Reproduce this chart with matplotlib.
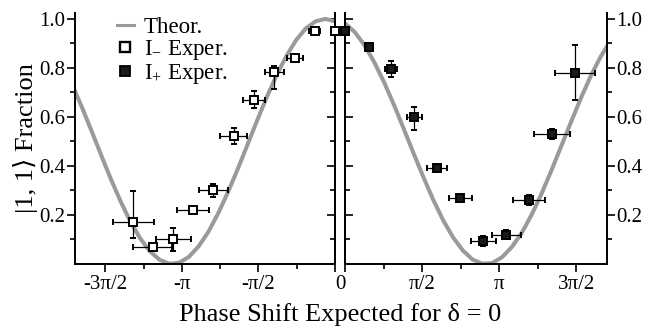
import numpy as np
import matplotlib
matplotlib.use("Agg")
import matplotlib.pyplot as plt
from matplotlib.ticker import FixedLocator, MultipleLocator
import matplotlib.transforms as mtransforms
from matplotlib.lines import Line2D

plt.rcParams['font.family'] = ['Liberation Serif', 'DejaVu Serif']
plt.rcParams['mathtext.fontset'] = 'custom'
plt.rcParams['mathtext.rm'] = 'Liberation Serif'
plt.rcParams['mathtext.it'] = 'Liberation Serif:italic'

# ---------------- data ----------------
# theory curve, left panel (phase < 0)
theo_left_x = [-5.4, -5.2, -5.0, -4.8, -4.6, -4.4, -4.2, -4.0, -3.8, -3.6, -3.4, -3.2,
               -3.0, -2.8, -2.6, -2.4, -2.2, -2.0, -1.8, -1.6, -1.4, -1.2, -1.0, -0.8,
               -0.6, -0.4, -0.2, 0.0]
theo_left_y = [0.734, 0.642, 0.544, 0.444, 0.346, 0.255, 0.173, 0.105, 0.052, 0.017,
               0.001, 0.005, 0.029, 0.072, 0.131, 0.206, 0.292, 0.386, 0.485, 0.585,
               0.681, 0.770, 0.848, 0.913, 0.961, 0.990, 1.000, 0.990]
# theory curve, right panel (phase > 0)
theo_right_x = [0.0, 0.2, 0.4, 0.6, 0.8, 1.0, 1.2, 1.4, 1.6, 1.8, 2.0, 2.2, 2.4, 2.6,
                2.8, 3.0, 3.2, 3.4, 3.6, 3.8, 4.0, 4.2, 4.4, 4.6, 4.8, 5.0, 5.2, 5.4]
theo_right_y = [0.982, 0.946, 0.892, 0.822, 0.740, 0.648, 0.550, 0.450, 0.353, 0.261,
                0.178, 0.109, 0.055, 0.018, 0.001, 0.004, 0.028, 0.070, 0.127, 0.201,
                0.286, 0.380, 0.479, 0.578, 0.675, 0.765, 0.844, 0.909]

# I- experiment (open squares)
im_x = [0.0, -0.418, -0.824, -1.242, -1.660, -2.080, -2.497, -2.909, -3.321, -3.739, -4.145]
im_y = [0.951, 0.951, 0.842, 0.782, 0.671, 0.521, 0.301, 0.220, 0.101, 0.069, 0.171]
im_xerr = [0.0, 0.12, 0.17, 0.19, 0.23, 0.28, 0.30, 0.33, 0.36, 0.40, 0.42]
im_yerr_lo = [0.0, 0.0, 0.0, 0.069, 0.036, 0.032, 0.027, 0.0, 0.048, 0.0, 0.064]
im_yerr_hi = [0.0, 0.0, 0.0, 0.027, 0.036, 0.032, 0.027, 0.0, 0.047, 0.0, 0.126]

# I+ experiment (filled squares)
ip_x = [0.0, 0.489, 0.930, 1.411, 1.879, 2.348, 2.816, 3.284, 3.746, 4.215, 4.683]
ip_y = [0.951, 0.887, 0.796, 0.600, 0.391, 0.271, 0.094, 0.120, 0.261, 0.532, 0.781]
ip_xerr = [0.0, 0.0, 0.12, 0.15, 0.20, 0.23, 0.26, 0.30, 0.33, 0.37, 0.40]
ip_yerr_lo = [0.0, 0.0, 0.032, 0.055, 0.0, 0.0, 0.02, 0.02, 0.02, 0.02, 0.112]
ip_yerr_hi = [0.0, 0.0, 0.032, 0.040, 0.0, 0.0, 0.02, 0.02, 0.02, 0.02, 0.113]

left_ticks = [-3 * np.pi / 2, -np.pi, -np.pi / 2, 0.0]
left_ticklabels = ['-3π/2', '-π', '-π/2', '0']
right_ticks = [0.0, np.pi / 2, np.pi, 3 * np.pi / 2]
right_ticklabels = ['', 'π/2', 'π', '3π/2']
y_ticks = [0.2, 0.4, 0.6, 0.8, 1.0]
y_minor = [0.1, 0.3, 0.5, 0.7, 0.9]
y_ticklabels = ['0.2', '0.4', '0.6', '0.8', '1.0']

# ---------------- figure ----------------
fig = plt.figure(figsize=(6.52, 3.28), dpi=100)
axL = fig.add_axes([0.1150, 0.1951, 0.3988, 0.7652])
axR = fig.add_axes([0.5291, 0.1951, 0.4018, 0.7652])

gray = '#9a9a9a'
FS_TICK = 15
lw_sp = 1.4

def style(ax):
    for s in ['left', 'right', 'bottom']:
        ax.spines[s].set_linewidth(lw_sp)
    ax.spines['top'].set_visible(False)
    ax.set_ylim(0, 1.024)
    ax.yaxis.set_major_locator(FixedLocator(y_ticks))
    ax.yaxis.set_minor_locator(FixedLocator(y_minor))
    ax.xaxis.set_minor_locator(MultipleLocator(np.pi / 4))
    ax.tick_params(axis='x', which='major', direction='out', length=6, width=1.2,
                   labelsize=FS_TICK, pad=2)
    ax.tick_params(axis='x', which='minor', direction='out', length=3.5, width=1.2)
    ax.tick_params(axis='x', top=False)

style(axL)
style(axR)

# left panel
axL.set_xlim(-5.338, 0.0)
axL.set_xticks(left_ticks)
axL.set_xticklabels(left_ticklabels)
axL.tick_params(axis='y', which='major', direction='out', length=6, width=1.2,
                labelsize=FS_TICK, left=True, right=False, pad=1)
axL.tick_params(axis='y', which='minor', direction='out', length=3.5, width=1.2,
                left=True, right=False)
axL.set_yticklabels(y_ticklabels)
secL = axL.secondary_yaxis('right')
secL.spines['right'].set_linewidth(lw_sp)
secL.yaxis.set_major_locator(FixedLocator(y_ticks))
secL.yaxis.set_minor_locator(FixedLocator(y_minor))
secL.tick_params(axis='y', which='major', direction='in', length=6, width=1.2, labelright=False)
secL.tick_params(axis='y', which='minor', direction='in', length=3.5, width=1.2)

# right panel
axR.set_xlim(0.0, 5.334)
axR.set_xticks(right_ticks)
axR.set_xticklabels(right_ticklabels)
axR.yaxis.tick_right()
axR.tick_params(axis='y', which='major', direction='out', length=6, width=1.2,
                labelsize=FS_TICK, left=False, right=True, labelleft=False,
                labelright=True, pad=1)
axR.tick_params(axis='y', which='minor', direction='out', length=3.5, width=1.2,
                left=False, right=True)
axR.set_yticklabels(y_ticklabels)
secR = axR.secondary_yaxis('left')
secR.spines['left'].set_linewidth(lw_sp)
secR.yaxis.set_major_locator(FixedLocator(y_ticks))
secR.yaxis.set_minor_locator(FixedLocator(y_minor))
secR.tick_params(axis='y', which='major', direction='in', length=6, width=1.2, labelleft=False)
secR.tick_params(axis='y', which='minor', direction='in', length=3.5, width=1.2)

# shift the shared "0" label to sit between the panels
offset = mtransforms.ScaledTranslation(5 / 100, 0, fig.dpi_scale_trans)
for lab in axL.get_xticklabels():
    if lab.get_text() == '0':
        lab.set_transform(lab.get_transform() + offset)

# theory curves
axL.plot(theo_left_x, theo_left_y, color=gray, lw=2.9, solid_capstyle='butt', zorder=2)
axR.plot(theo_right_x, theo_right_y, color=gray, lw=2.9, solid_capstyle='butt', zorder=2)

# experiments
eb_kw = dict(fmt='s', ecolor='black', elinewidth=0.9, capsize=2, capthick=0.9,
             markersize=6, markeredgewidth=1.4, markeredgecolor='black', zorder=3)
axL.errorbar(im_x, im_y, xerr=im_xerr, yerr=[im_yerr_lo, im_yerr_hi],
             markerfacecolor='white', clip_on=False, **eb_kw)
axR.errorbar(ip_x, ip_y, xerr=ip_xerr, yerr=[ip_yerr_lo, ip_yerr_hi],
             markerfacecolor='#1a1a1a', clip_on=False, **eb_kw)

# legend
handles = [Line2D([], [], color=gray, lw=2.2),
           Line2D([], [], ls='none', marker='s', markersize=7, markerfacecolor='white',
                  markeredgecolor='black', markeredgewidth=1.7),
           Line2D([], [], ls='none', marker='s', markersize=7, markerfacecolor='#1a1a1a',
                  markeredgecolor='black', markeredgewidth=1.3)]
labels = ['Theor.', r'I$_{-}$ Exper.', r'I$_{+}$ Exper.']
axL.legend(handles, labels, loc='upper left', bbox_to_anchor=(0.16, 0.985),
           frameon=False, fontsize=16.5, handlelength=0.75, handletextpad=0.45,
           labelspacing=0.0, borderpad=0.0, borderaxespad=0.0)

axL.set_ylabel('|1, 1⟩ Fraction', fontsize=19, labelpad=1)
fig.text(0.5215, 0.005, 'Phase Shift Expected for δ = 0', ha='center', va='bottom',
         fontsize=19)

fig.savefig('out.png', dpi=100)
